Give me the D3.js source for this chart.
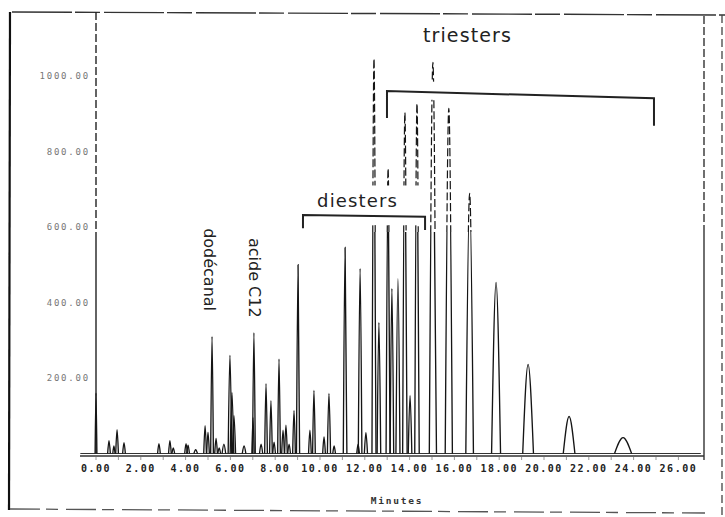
<!DOCTYPE html>
<html><head><meta charset="utf-8">
<script src="https://cdn.jsdelivr.net/npm/d3@7"></script>
<style>body{margin:0;background:#fff} svg{display:block}</style>
</head><body>
<svg id="c" width="725" height="517"></svg>
<script>
// ---- data (retention time in minutes, detector response) ----
const peakTimes = [0.00,0.58,0.80,0.94,1.25,2.81,3.30,3.45,4.02,4.11,4.45,4.87,5.00,5.18,5.36,5.50,5.71,5.98,6.07,6.16,6.61,7.01,7.05,7.37,7.59,7.81,7.95,8.17,8.35,8.48,8.62,8.84,9.02,9.55,9.73,10.18,10.40,10.63,11.12,11.70,11.79,12.05,12.41,12.63,13.04,13.21,13.48,13.79,14.02,14.33,15.04,15.75,16.68,17.86,19.29,21.12,23.53];
const peakHeights = [160,34,20,63,29,26,34,15,26,22,10,74,56,310,40,15,25,260,162,100,20,95,320,25,185,140,30,250,62,75,25,114,500,62,167,44,159,20,546,25,490,55,1046,347,755,437,463,903,154,927,1036,914,689,453,236,98,42];
const peakHalfWidths = [0.04,0.06,0.05,0.06,0.06,0.06,0.06,0.06,0.06,0.06,0.08,0.06,0.06,0.06,0.06,0.06,0.08,0.08,0.08,0.07,0.08,0.05,0.06,0.07,0.06,0.06,0.06,0.06,0.06,0.06,0.06,0.06,0.07,0.06,0.06,0.06,0.07,0.06,0.08,0.06,0.08,0.07,0.09,0.08,0.09,0.08,0.09,0.10,0.08,0.10,0.16,0.16,0.17,0.20,0.24,0.26,0.38];
const xTickValues = [0,2,4,6,8,10,12,14,16,18,20,22,24,26];
const xTickLabels = ["0.00","2.00","4.00","6.00","8.00","10.00","12.00","14.00","16.00","18.00","20.00","22.00","24.00","26.00"];
const yTickValues = [200,400,600,800,1000];
const yTickLabels = ["200.00","400.00","600.00","800.00","1000.00"];
const compoundNames = ["dodécanal","acide C12"];
const compoundAnchorT = [4.82,6.83];
const compoundAnchorV = [597,571];
const groupNames = ["diesters","triesters"];
const groupAnchorT = [9.87,14.6];
const groupAnchorV = [653,1090];
const diesterBracket = [[9.24,597],[9.24,632],[14.69,627],[14.69,592]];
const triesterBracket = [[12.99,889],[12.99,960],[24.91,941],[24.91,868]];
const axisTitle = "Minutes";

const svg = d3.select("#c");
const x = d3.scaleLinear().domain([0,26]).range([96,678.4]);
const y = d3.scaleLinear().domain([0,1000]).range([453.5,76]);

const peaks = peakTimes.map((t,i)=>({t, h:peakHeights[i], w:peakHalfWidths[i]}));

const defs = svg.append("defs");
const SPLIT = 232;
defs.append("clipPath").attr("id","cTop").append("rect").attr("x",0).attr("y",0).attr("width",725).attr("height",SPLIT);
defs.append("clipPath").attr("id","cBot").append("rect").attr("x",0).attr("y",SPLIT).attr("width",725).attr("height",517-SPLIT);

// outer frame of the scanned page
const frame = svg.append("g").attr("fill","none");
frame.append("line").attr("x1",12).attr("y1",12).attr("x2",725).attr("y2",15).attr("stroke","#333").attr("stroke-width",1.4).attr("stroke-dasharray","60 3 25 4");
frame.append("line").attr("x1",10).attr("y1",12).attr("x2",9).attr("y2",510).attr("stroke","#111").attr("stroke-width",2.2);
frame.append("line").attr("x1",10).attr("y1",509).attr("x2",705).attr("y2",513).attr("stroke","#555").attr("stroke-width",1.3).attr("stroke-dasharray","30 6 12 8");
frame.append("line").attr("x1",722).attr("y1",15).attr("x2",722).attr("y2",517).attr("stroke","#444").attr("stroke-width",1.3).attr("stroke-dasharray","8 4");

const line = d3.line().x(d=>x(d[0])).y(d=>y(d[1])).curve(d3.curveMonotoneX);

function drawTrace(g, sw){
  g.append("line").attr("x1",x(0)).attr("x2",x(0)).attr("y1",12).attr("y2",y(0)).attr("stroke","#222").attr("stroke-width",1.4);
  g.append("line").attr("x1",704).attr("x2",704).attr("y1",16).attr("y2",460).attr("stroke","#222").attr("stroke-width",1.3);
  g.append("path").attr("d",line([[-0.7,0],[27.0,0]])).attr("stroke","#333").attr("stroke-width",1.2).attr("fill","none");
  g.selectAll("path.pk").data(peaks).join("path").attr("class","pk")
    .attr("d",d=>line([[d.t-d.w,0],[d.t,d.h],[d.t+d.w,0]]))
    .attr("fill","none").attr("stroke","#151515").attr("stroke-width",sw);
}
const gBot = svg.append("g").attr("clip-path","url(#cBot)");
drawTrace(gBot, 1.35);
const gTop = svg.append("g").attr("clip-path","url(#cTop)");
drawTrace(gTop, 1.2);
gTop.selectAll("*").attr("stroke-dasharray","8 3");

// x axis
svg.append("line").attr("x1",80).attr("x2",704).attr("y1",456).attr("y2",456).attr("stroke","#333").attr("stroke-width",1.3);
svg.selectAll("line.mt").data(d3.range(0,27,1)).join("line").attr("class","mt")
  .attr("x1",d=>x(d)).attr("x2",d=>x(d)).attr("y1",457).attr("y2",460).attr("stroke","#999").attr("stroke-width",1);
svg.selectAll("text.xl").data(xTickValues).join("text").attr("class","xl")
  .attr("x",d=>x(d)).attr("y",472).attr("text-anchor","middle")
  .attr("font-family","DejaVu Sans Mono").attr("font-weight","bold").attr("font-size",10)
  .attr("letter-spacing",1.5).attr("fill","#222").text((d,i)=>xTickLabels[i]);
svg.append("text").attr("x",397).attr("y",504).attr("text-anchor","middle")
  .attr("font-family","DejaVu Sans Mono").attr("font-weight","bold").attr("font-size",9.5)
  .attr("letter-spacing",1.8).attr("fill","#333").text(axisTitle);

// y labels
svg.selectAll("text.yl").data(yTickValues).join("text").attr("class","yl")
  .attr("x",90).attr("y",d=>y(d)+3).attr("text-anchor","end")
  .attr("font-family","DejaVu Sans Mono").attr("font-size",9)
  .attr("letter-spacing",1.8).attr("fill","#777").text((d,i)=>yTickLabels[i]);

// white patches of the pasted annotation labels
svg.append("rect").attr("x",x(9.6)).attr("y",y(710)).attr("width",x(14.77)-x(9.6)).attr("height",y(605)-y(710)).attr("fill","#fff");
svg.append("rect").attr("x",x(12.85)).attr("y",y(985)).attr("width",x(25.05)-x(12.85)).attr("height",y(937)-y(985)).attr("fill","#fff");

// brackets
const bl = d3.line().x(d=>x(d[0])).y(d=>y(d[1]));
[diesterBracket, triesterBracket].forEach(b=>{
  svg.append("path").attr("d",bl(b)).attr("fill","none").attr("stroke","#222").attr("stroke-width",2);
});

// group labels
svg.selectAll("text.gl").data(groupNames).join("text").attr("class","gl")
  .attr("x",(d,i)=>x(groupAnchorT[i])).attr("y",(d,i)=>y(groupAnchorV[i]))
  .attr("font-family","DejaVu Sans").attr("font-size",(d,i)=>i===1?19:18)
  .attr("letter-spacing",(d,i)=>i===1?1.1:1.15).attr("fill","#222").text(d=>d);

// compound labels (rotated)
svg.selectAll("text.cl").data(compoundNames).join("text").attr("class","cl")
  .attr("transform",(d,i)=>`translate(${x(compoundAnchorT[i])},${y(compoundAnchorV[i])}) rotate(90)`)
  .attr("font-family","DejaVu Sans").attr("font-size",16).attr("fill","#222").text(d=>d);
</script>
</body></html>
